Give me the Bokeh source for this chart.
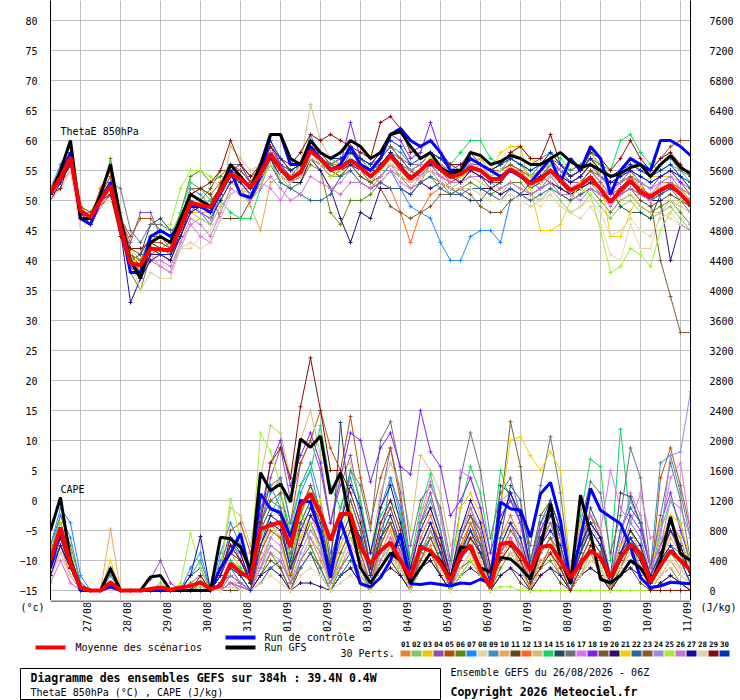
import math

from bokeh.core.properties import value
from bokeh.embed import file_html
from bokeh.layouts import column
from bokeh.models import ColumnDataSource, FixedTicker, LinearAxis, Range1d
from bokeh.plotting import figure
from bokeh.resources import INLINE

MONO = "DejaVu Sans Mono"

# ---------------------------------------------------------------- data ----
# GEFS run 26/08 06Z, one value every 6 h out to 384 h
step_h = 6
day_labels = ["27/08", "28/08", "29/08", "30/08", "31/08", "01/09", "02/09", "03/09",
              "04/09", "05/09", "06/09", "07/09", "08/09", "09/09", "10/09", "11/09"]
day_hours = [18 + 24 * k for k in range(len(day_labels))]

theta_ticks = list(range(-15, 81, 5))
cape_ticks = list(range(0, 7601, 400))

member_names = ["%02d" % k for k in range(1, 31)]
member_colors = ["#e8822e", "#88c46a", "#f0c400", "#8e50b0", "#b0500a", "#5a8a10",
                 "#1a88ff", "#e8d4a8", "#3a8ec0", "#e8a855", "#5e4a1e", "#f86a1e",
                 "#d0be78", "#10d860", "#244a5e", "#68727a", "#e070f0", "#7f20f0",
                 "#7a5c2e", "#300a70", "#f0d000", "#2a66a0", "#8c5a20", "#9a88e8",
                 "#a0f030", "#d070d0", "#1a0aa0", "#e0d0a8", "#880a0a", "#0030c0"]

# ThetaE 850 hPa (degC)
mean_theta = [51.2, 53.8, 57.2, 48.3, 47.2, 50.0, 52.5, 45.5, 39.5, 39.2, 42.0, 41.8, 41.7, 45.5, 49.7, 49.2,
              48.9, 51.7, 54.4, 53.6, 52.2, 54.4, 57.8, 55.2, 53.6, 54.7, 58.3, 56.9, 55.2, 55.5, 56.7, 55.5,
              54.0, 55.5, 57.5, 55.5, 53.6, 55.0, 56.7, 55.2, 53.9, 54.4, 55.5, 55.0, 53.6, 53.6, 55.2, 54.2,
              52.8, 53.6, 55.0, 53.3, 51.7, 52.5, 53.9, 51.9, 49.7, 51.7, 53.3, 51.4, 50.6, 51.7, 52.5, 51.1, 49.2]
ctrl_theta = [51, 54, 58, 47, 46, 50, 53, 46, 38, 38, 44, 45, 44, 46, 49, 49, 48, 52, 55, 51,
              50.5, 54, 61, 61, 56, 56, 59, 57, 55, 56, 59, 56, 55, 57, 61, 62, 60, 59, 60, 58,
              55, 55, 57, 56, 55, 54, 55, 54, 53, 55, 57, 53, 57, 55, 59, 57, 51, 55, 57, 56,
              55, 60, 60, 59, 57.5]
gfs_theta = [51, 55, 60, 47, 47, 51, 56, 47, 40, 37, 43, 44, 43, 47, 51, 50, 49, 52, 56, 54,
             52, 56, 61, 61, 57, 56, 60, 58, 57, 58, 60, 59, 57, 58, 61, 61.5, 59, 57, 58, 55.5,
             54.5, 55, 58, 57.5, 56, 56.5, 57.5, 57, 56, 56, 57, 58, 56.5, 55.5, 56, 55, 54, 54.5, 55.5, 56,
             54, 56, 57.5, 55.5, 54.5]

theta_01 = [52, 55, 58, 49, 47, 51, 54, 46, 41, 38, 43, 43, 42, 46, 51, 50, 48, 53, 55, 56, 53, 55, 59, 56, 55, 54, 59, 58, 56, 56, 58, 56, 55, 56, 58, 57, 55, 53, 56, 56, 55, 53, 55, 56, 54, 55, 56, 55, 54, 53, 56, 54, 52, 53, 55, 53, 51, 52, 54, 52, 50, 53, 53, 52, 50]
theta_02 = [51, 53, 56, 48, 48, 49, 51, 44, 39, 38, 41, 39, 38, 43, 46, 47, 46, 49, 51, 52, 50, 53, 56, 54, 52, 53, 57, 56, 54, 54, 56, 54, 53, 54, 56, 54, 53, 54, 55, 54, 52, 53, 54, 53, 52, 51, 53, 52, 51, 50, 52, 50, 48, 49, 51, 49, 47, 49, 50, 48, 47, 48, 49, 47, 45]
theta_03 = [52, 54, 57, 49, 48, 50, 53, 47, 42, 40, 42, 41, 40, 44, 48, 48, 47, 50, 53, 52, 51, 53, 57, 55, 53, 54, 58, 56, 55, 54, 57, 55, 53, 55, 57, 56, 55, 56, 58, 57, 56, 55, 56, 57, 55, 56, 58, 59, 57, 56, 57, 55, 54, 55, 57, 54, 52, 53, 55, 52, 51, 52, 53, 51, 49]
theta_04 = [51, 54, 56, 47, 46, 50, 52, 47, 43, 48, 48, 44, 42, 46, 50, 49, 50, 52, 54, 53, 51, 54, 58, 55, 54, 56, 59, 58, 56, 57, 59, 56, 55, 57, 59, 57, 55, 56, 58, 56, 55, 55, 56, 56, 55, 54, 56, 55, 53, 55, 56, 54, 53, 53, 55, 53, 51, 52, 54, 51, 50, 51, 52, 50, 48]
theta_05 = [51, 53, 57, 48, 47, 52, 55, 47, 44, 47, 47, 45, 44, 47, 52, 52, 51, 53, 56, 55, 53, 55, 59, 57, 55, 56, 60, 58, 56, 57, 58, 57, 55, 56, 58, 56, 54, 55, 57, 55, 53, 54, 55, 54, 53, 53, 55, 54, 52, 53, 55, 53, 51, 52, 54, 52, 50, 51, 53, 51, 50, 52, 53, 52, 51]
theta_06 = [52, 55, 58, 48, 47, 50, 57, 48, 38, 35, 41, 42, 43, 48, 54, 55, 53, 54, 56, 54, 52, 53, 57, 53, 52, 53, 56, 55, 48, 46, 50, 50, 51, 53, 55, 54, 52, 53, 54, 53, 51, 52, 53, 52, 51, 52, 53, 53, 51, 52, 53, 51, 50, 51, 52, 50, 48, 50, 51, 49, 48, 49, 50, 48, 46]
theta_07 = [52, 56, 59, 48, 47, 51, 53, 45, 40, 39, 43, 44, 43, 46, 50, 48, 46, 51, 53, 54, 52, 56, 60, 56, 54, 55, 61, 57, 55, 55, 58, 56, 55, 55, 55, 52, 49, 48, 47, 43, 40, 40, 44, 45, 45, 43, 50, 51, 53, 52, 54, 52, 51, 52, 53, 51, 50, 51, 52, 51, 50, 51, 52, 51, 50]
theta_08 = [50, 53, 56, 49, 48, 50, 52, 45, 40, 38, 41, 40, 38, 42, 42, 44, 45, 48, 52, 53, 51, 54, 58, 56, 55, 55, 58, 57, 55, 56, 58, 56, 55, 56, 57, 55, 53, 54, 56, 54, 53, 53, 54, 53, 52, 51, 52, 51, 50, 49, 51, 49, 48, 47, 49, 46, 41, 40, 46, 42, 42, 48, 47, 46, 45]
theta_09 = [52, 55, 57, 48, 47, 51, 53, 46, 41, 40, 44, 45, 44, 47, 52, 51, 49, 52, 55, 55, 53, 54, 57, 55, 54, 55, 58, 57, 56, 55, 57, 56, 55, 57, 59, 58, 56, 56, 58, 57, 56, 55, 56, 57, 55, 55, 57, 56, 54, 55, 56, 55, 53, 54, 56, 54, 53, 54, 55, 54, 53, 54, 55, 53, 52]
theta_10 = [51, 54, 57, 48, 47, 49, 52, 46, 41, 39, 42, 41, 41, 45, 49, 48, 48, 51, 53, 52, 49, 45, 53, 54, 53, 55, 57, 56, 54, 55, 57, 55, 54, 55, 57, 55, 54, 55, 57, 55, 54, 53, 55, 54, 53, 54, 55, 55, 53, 54, 55, 53, 52, 52, 54, 52, 51, 52, 53, 52, 51, 52, 53, 52, 50]
theta_11 = [52, 55, 57, 48, 47, 51, 53, 47, 42, 41, 44, 44, 43, 47, 51, 52, 51, 47, 47, 47, 50, 53, 56, 54, 53, 54, 57, 56, 55, 54, 56, 54, 53, 54, 56, 54, 53, 54, 56, 54, 53, 53, 55, 54, 52, 53, 55, 54, 52, 53, 55, 53, 51, 52, 53, 51, 50, 51, 52, 50, 49, 50, 51, 50, 49]
theta_12 = [51, 53, 56, 48, 47, 52, 55, 48, 41, 39, 42, 42, 41, 45, 50, 49, 48, 51, 54, 54, 52, 54, 57, 55, 54, 55, 57, 56, 55, 55, 56, 55, 54, 53, 52, 48, 43, 48, 51, 52, 53, 54, 55, 54, 53, 54, 55, 54, 53, 54, 55, 54, 52, 53, 54, 52, 51, 52, 54, 52, 51, 52, 53, 52, 50]
theta_13 = [50, 52, 55, 49, 48, 50, 52, 46, 41, 40, 43, 42, 41, 44, 48, 47, 46, 49, 59, 57, 55, 56, 57, 54, 53, 56, 66, 60, 57, 56, 58, 56, 55, 55, 57, 55, 54, 55, 57, 56, 55, 54, 56, 55, 54, 55, 56, 55, 54, 53, 54, 53, 52, 51, 53, 51, 50, 50, 51, 49, 48, 48, 50, 49, 48]
theta_14 = [52, 54, 57, 49, 48, 51, 56, 47, 39, 37, 43, 45, 44, 48, 53, 52, 50, 50, 48, 47, 47, 52, 57, 55, 54, 56, 60, 58, 57, 56, 59, 57, 55, 56, 58, 56, 55, 56, 58, 57, 56, 58, 60, 60, 57, 56, 57, 56, 55, 56, 58, 57, 55, 56, 58, 56, 55, 60, 61, 58, 56, 55, 56, 55, 53]
theta_15 = [51, 54, 57, 48, 46, 50, 53, 46, 40, 41, 46, 47, 45, 46, 50, 49, 48, 52, 55, 54, 52, 55, 58, 56, 55, 56, 58, 57, 56, 55, 57, 56, 55, 55, 57, 56, 55, 54, 55, 53, 52, 51, 50, 50, 52, 53, 55, 54, 53, 54, 56, 55, 53, 54, 56, 54, 52, 49, 48, 48, 47, 51, 53, 51, 49]
theta_16 = [52, 55, 58, 48, 47, 51, 53, 52, 45, 43, 46, 46, 45, 46, 51, 50, 49, 52, 56, 56, 54, 55, 58, 56, 55, 56, 59, 57, 56, 57, 58, 56, 55, 56, 58, 57, 56, 56, 58, 57, 56, 55, 57, 56, 55, 56, 58, 57, 56, 57, 58, 56, 55, 56, 57, 55, 54, 55, 57, 55, 54, 56, 57, 55, 54]
theta_17 = [52, 55, 56, 48, 47, 50, 51, 46, 40, 37, 40, 39, 38, 42, 46, 44, 43, 47, 51, 52, 52, 53, 52, 50, 53, 54, 57, 55, 52, 53, 55, 53, 52, 53, 55, 53, 52, 54, 56, 54, 53, 53, 55, 54, 53, 54, 55, 54, 53, 54, 55, 54, 52, 53, 54, 52, 51, 53, 54, 52, 51, 53, 54, 53, 52]
theta_18 = [51, 54, 57, 47, 46, 50, 53, 46, 40, 38, 41, 41, 40, 45, 50, 49, 48, 51, 55, 56, 53, 55, 59, 56, 54, 55, 59, 57, 55, 56, 63, 57, 56, 58, 61, 60, 57, 58, 63, 58, 55, 56, 58, 56, 55, 55, 57, 56, 54, 55, 57, 55, 54, 55, 56, 54, 53, 53, 55, 53, 52, 54, 55, 53, 51]
theta_19 = [51, 53, 56, 48, 47, 50, 52, 46, 41, 39, 42, 42, 41, 44, 48, 50, 52, 55, 55, 54, 52, 54, 57, 55, 53, 54, 57, 56, 54, 55, 57, 55, 53, 52, 49, 48, 47, 48, 49, 51, 51, 52, 51, 49, 48, 48, 50, 51, 53, 54, 53, 52, 51, 53, 55, 54, 52, 53, 54, 53, 50, 40, 34, 28, 28]
theta_20 = [51, 53, 56, 47, 46, 49, 51, 45, 39, 37, 41, 41, 40, 44, 49, 48, 47, 50, 53, 54, 52, 54, 57, 54, 53, 53, 57, 55, 52, 47, 43, 48, 47, 52, 52, 52, 51, 53, 52, 53, 52, 52, 52, 52, 52, 51, 52, 51, 51, 52, 53, 52, 51, 52, 53, 52, 50, 52, 53, 52, 50, 50, 40, 46, 45]
theta_21 = [52, 54, 57, 48, 47, 51, 52, 46, 40, 40, 43, 42, 41, 46, 50, 49, 48, 51, 54, 54, 52, 54, 57, 55, 54, 55, 58, 57, 55, 55, 57, 55, 54, 55, 57, 56, 55, 56, 58, 56, 54, 53, 56, 57, 55, 58, 59, 59, 52, 45, 45, 46, 50, 53, 59, 54, 44, 44, 48, 52, 54, 54, 54, 52, 50]
theta_22 = [51, 54, 57, 48, 47, 50, 53, 46, 40, 38, 42, 42, 42, 46, 50, 49, 48, 51, 54, 53, 51, 53, 56, 53, 52, 51, 50, 50, 51, 54, 55, 53, 52, 53, 52, 52, 51, 53, 54, 52, 51, 51, 52, 52, 51, 50, 52, 51, 50, 51, 52, 51, 50, 51, 52, 51, 50, 51, 52, 51, 50, 51, 52, 51, 50]
theta_23 = [52, 55, 57, 49, 48, 51, 54, 46, 41, 40, 43, 43, 42, 46, 51, 50, 49, 52, 55, 55, 53, 56, 59, 57, 55, 56, 59, 58, 57, 58, 59, 57, 56, 57, 59, 57, 55, 56, 58, 57, 55, 55, 57, 56, 55, 55, 56, 55, 54, 56, 57, 56, 54, 55, 57, 56, 54, 55, 57, 56, 55, 57, 59, 60, 60]
theta_24 = [51, 54, 57, 48, 47, 50, 52, 46, 40, 38, 42, 42, 41, 45, 49, 48, 47, 51, 54, 54, 52, 54, 58, 55, 54, 55, 58, 57, 55, 55, 57, 55, 54, 55, 58, 56, 55, 56, 58, 56, 55, 54, 56, 55, 54, 55, 57, 56, 54, 55, 56, 55, 53, 54, 56, 54, 52, 53, 55, 53, 52, 53, 54, 52, 51]
theta_25 = [52, 54, 57, 48, 47, 50, 52, 46, 41, 37, 43, 44, 46, 52, 55, 55, 54, 52, 54, 53, 51, 53, 56, 54, 53, 54, 57, 56, 54, 55, 57, 55, 54, 55, 57, 55, 54, 55, 57, 55, 54, 54, 55, 55, 54, 55, 57, 56, 54, 55, 56, 54, 52, 52, 51, 45, 38, 39, 42, 41, 39, 45, 48, 50, 52]
theta_26 = [51, 53, 55, 47, 46, 49, 51, 45, 39, 37, 40, 40, 39, 43, 47, 46, 44, 48, 52, 51, 50, 52, 54, 52, 50, 51, 54, 53, 52, 51, 53, 53, 52, 54, 56, 55, 53, 54, 55, 54, 53, 53, 54, 54, 53, 52, 53, 52, 51, 52, 53, 51, 51, 50, 52, 51, 49, 51, 52, 51, 50, 52, 53, 51, 50]
theta_27 = [50, 53, 57, 48, 47, 50, 52, 45, 33, 37, 40, 41, 41, 44, 48, 49, 48, 51, 54, 53, 51, 54, 57, 55, 53, 54, 57, 56, 55, 55, 56, 55, 54, 56, 58, 56, 54, 55, 56, 55, 54, 53, 55, 54, 53, 54, 55, 54, 53, 54, 55, 54, 53, 54, 56, 55, 53, 54, 55, 54, 53, 54, 55, 54, 52]
theta_28 = [50, 52, 55, 45, 47, 49, 50, 46, 40, 35, 38, 37, 37, 42, 43, 42, 43, 47, 51, 52, 51, 53, 56, 54, 53, 54, 57, 56, 55, 55, 57, 55, 54, 55, 56, 54, 53, 54, 55, 53, 52, 52, 52, 51, 50, 50, 51, 50, 49, 50, 51, 49, 48, 49, 50, 48, 44, 45, 47, 45, 44, 47, 48, 46, 45]
theta_29 = [51, 52, 57, 48, 47, 50, 51, 44, 42, 42, 43, 42, 42, 46, 51, 52, 53, 55, 60, 56, 54, 56, 59, 57, 56, 58, 61, 60, 61, 60, 59, 58, 57, 63, 64, 62, 58, 59, 60, 58, 56, 56, 57, 56, 55, 56, 58, 59, 57, 57, 61, 56, 54, 55, 58, 57, 55, 57, 60, 57, 55, 57, 58, 56, 54]
theta_30 = [51, 54, 58, 48, 46, 50, 52, 46, 40, 38, 42, 41, 41, 45, 49, 49, 48, 51, 54, 54, 52, 55, 60, 57, 55, 56, 60, 58, 57, 57, 58, 57, 56, 58, 60, 59, 56, 57, 58, 57, 55, 55, 57, 56, 55, 56, 57, 56, 55, 56, 58, 56, 54, 55, 57, 55, 54, 55, 56, 55, 54, 55, 56, 54, 53]

# CAPE (J/kg)
mean_cape = [400, 840, 360, 40, 0, 0, 110, 0, 0, 0, 20, 40, 10, 40, 60, 110, 20, 60, 360, 240,
             160, 820, 870, 910, 580, 1130, 1290, 1020, 670, 1020, 1020, 580, 360, 530, 640, 400, 175, 580, 530, 360,
             130, 470, 600, 270, 40, 620, 640, 490, 270, 580, 600, 400, 175, 360, 530, 440, 175, 440, 620, 490,
             110, 330, 530, 400, 270]
ctrl_cape = [300, 800, 400, 0, 0, 0, 50, 0, 0, 0, 0, 0, 0, 0, 0, 0, 0, 300, 500, 760,
             200, 1290, 1090, 1040, 710, 1200, 1180, 760, 170, 930, 530, 90, 50, 170, 400, 760, 90, 80, 100, 80,
             60, 100, 90, 150, 100, 1180, 1090, 1070, 710, 1290, 1440, 930, 90, 700, 1360, 1070, 980, 890, 580, 170,
             40, 60, 110, 100, 90]
gfs_cape = [800, 1240, 400, 50, 0, 0, 290, 0, 0, 0, 180, 200, 0, 0, 0, 0, 0, 710, 690, 580,
            270, 1570, 1330, 1420, 1180, 2020, 1910, 2060, 1290, 1570, 900, 300, 100, 300, 500, 400, 100, 300, 500, 400,
            150, 580, 560, 300, 250, 440, 420, 300, 150, 580, 1160, 400, 100, 1270, 760, 150, 100, 200, 400, 300,
            100, 400, 980, 490, 400]

cape_01 = [300, 700, 300, 0, 0, 0, 50, 0, 0, 0, 0, 0, 0, 0, 0, 0, 0, 0, 100, 50, 0, 400, 600, 500, 100, 900, 700, 400, 100, 300, 500, 200, 50, 500, 800, 300, 50, 400, 600, 200, 0, 300, 500, 200, 0, 500, 700, 300, 50, 400, 500, 200, 0, 300, 500, 200, 50, 300, 600, 300, 0, 200, 400, 200, 100]
cape_02 = [500, 900, 500, 50, 0, 0, 100, 0, 0, 0, 0, 100, 0, 0, 0, 50, 0, 100, 300, 200, 0, 300, 700, 900, 300, 1100, 600, 300, 0, 200, 400, 100, 0, 300, 600, 200, 0, 500, 800, 400, 100, 600, 700, 300, 0, 400, 600, 300, 0, 500, 700, 300, 0, 200, 500, 300, 0, 400, 700, 300, 100, 300, 500, 300, 100]
cape_03 = [400, 800, 300, 0, 0, 0, 200, 0, 0, 0, 0, 0, 0, 0, 100, 0, 0, 200, 500, 300, 100, 600, 900, 700, 200, 1000, 1300, 900, 300, 800, 1100, 600, 200, 700, 900, 400, 100, 1000, 1300, 800, 200, 600, 800, 400, 50, 700, 900, 600, 200, 800, 1000, 600, 100, 500, 900, 700, 100, 600, 800, 500, 100, 600, 1000, 900, 300]
cape_04 = [200, 600, 300, 0, 0, 0, 100, 0, 0, 0, 150, 400, 100, 0, 0, 0, 0, 100, 300, 100, 0, 800, 1500, 1900, 1200, 1700, 2000, 1600, 900, 1400, 1800, 1100, 300, 1200, 1900, 1300, 400, 900, 1300, 800, 200, 700, 1000, 600, 100, 600, 900, 500, 100, 700, 900, 500, 100, 500, 800, 600, 100, 400, 700, 400, 100, 500, 800, 500, 200]
cape_05 = [300, 700, 400, 0, 0, 0, 50, 0, 0, 0, 0, 0, 0, 0, 0, 0, 0, 300, 800, 900, 500, 1000, 1400, 1500, 900, 1700, 2000, 2400, 1900, 1600, 2320, 1500, 900, 1500, 1900, 1200, 300, 900, 1100, 700, 100, 500, 900, 600, 100, 500, 700, 400, 0, 300, 600, 300, 0, 400, 700, 500, 0, 300, 600, 400, 100, 1500, 1900, 1400, 800]
cape_06 = [600, 1000, 600, 100, 0, 0, 100, 0, 0, 0, 0, 0, 0, 0, 0, 0, 0, 0, 100, 0, 0, 200, 500, 300, 0, 400, 600, 300, 0, 300, 500, 200, 0, 200, 400, 200, 0, 300, 500, 200, 0, 200, 400, 200, 0, 300, 500, 300, 0, 300, 400, 200, 0, 200, 400, 300, 0, 300, 500, 200, 0, 200, 300, 100, 0]
cape_07 = [600, 1100, 900, 200, 0, 0, 100, 0, 0, 0, 0, 0, 0, 0, 300, 500, 0, 500, 900, 600, 200, 1100, 1400, 1100, 400, 1300, 1600, 1000, 300, 900, 1200, 800, 200, 600, 1500, 1100, 300, 500, 700, 400, 0, 400, 600, 300, 100, 400, 600, 500, 100, 500, 700, 400, 0, 600, 900, 700, 100, 500, 700, 400, 100, 500, 800, 600, 200]
cape_08 = [300, 500, 100, 0, 0, 0, 0, 0, 0, 0, 0, 0, 0, 0, 0, 0, 0, 0, 0, 0, 0, 100, 300, 200, 0, 300, 500, 300, 0, 200, 400, 200, 0, 300, 500, 200, 0, 300, 400, 200, 0, 300, 500, 300, 0, 400, 500, 300, 0, 300, 500, 400, 0, 300, 400, 300, 0, 200, 300, 200, 0, 200, 300, 200, 100]
cape_09 = [500, 1000, 700, 100, 0, 0, 200, 0, 0, 0, 0, 0, 0, 0, 200, 400, 0, 400, 700, 400, 100, 900, 1300, 1500, 900, 1400, 1700, 1200, 500, 1100, 1500, 1000, 300, 1100, 1500, 1000, 200, 900, 1200, 800, 200, 800, 1100, 700, 100, 900, 1300, 1000, 300, 900, 1100, 700, 200, 700, 1000, 800, 200, 800, 1200, 900, 300, 1700, 1800, 1300, 700]
cape_10 = [400, 800, 400, 0, 0, 0, 820, 0, 0, 0, 0, 0, 0, 0, 0, 0, 0, 0, 200, 100, 0, 500, 900, 700, 200, 600, 900, 500, 100, 400, 700, 400, 100, 500, 800, 400, 0, 400, 700, 400, 0, 500, 800, 400, 0, 400, 700, 500, 100, 500, 700, 400, 100, 600, 900, 700, 100, 500, 800, 500, 100, 400, 700, 500, 200]
cape_11 = [300, 700, 300, 0, 0, 0, 0, 0, 0, 0, 0, 0, 0, 0, 0, 0, 0, 0, 0, 0, 0, 200, 400, 300, 0, 300, 500, 200, 0, 200, 300, 100, 0, 200, 400, 200, 0, 300, 400, 200, 0, 300, 400, 200, 0, 200, 300, 100, 0, 200, 300, 100, 0, 200, 300, 200, 0, 200, 300, 100, 0, 100, 200, 100, 0]
cape_12 = [300, 600, 200, 0, 0, 0, 100, 0, 0, 0, 0, 0, 0, 0, 0, 0, 0, 200, 500, 400, 100, 700, 1000, 900, 300, 800, 1100, 700, 200, 600, 900, 500, 100, 600, 900, 500, 100, 700, 1000, 600, 100, 600, 900, 500, 100, 700, 1000, 700, 200, 600, 900, 600, 100, 500, 800, 600, 100, 500, 800, 600, 100, 600, 900, 700, 200]
cape_13 = [300, 700, 200, 0, 0, 0, 100, 0, 0, 0, 0, 0, 0, 0, 0, 0, 0, 300, 1100, 1000, 600, 1500, 2200, 2100, 1500, 2000, 2400, 1800, 900, 1600, 1700, 1200, 500, 1300, 1700, 1400, 800, 1800, 1600, 1300, 600, 800, 1100, 700, 200, 900, 1200, 900, 300, 800, 1000, 700, 200, 700, 900, 600, 100, 600, 800, 500, 100, 600, 800, 700, 300]
cape_14 = [400, 800, 400, 0, 0, 0, 100, 0, 0, 0, 0, 0, 0, 0, 0, 100, 0, 100, 400, 300, 100, 700, 1000, 1300, 800, 1400, 1600, 2200, 1400, 1100, 1600, 1200, 500, 1000, 1200, 1000, 400, 1100, 1550, 1000, 300, 1100, 1650, 1300, 500, 1600, 1200, 1000, 300, 700, 900, 800, 300, 1000, 1750, 1650, 400, 2150, 900, 700, 200, 800, 1200, 900, 300]
cape_15 = [500, 900, 500, 0, 0, 0, 100, 0, 0, 0, 0, 0, 0, 0, 200, 300, 0, 300, 600, 400, 100, 800, 1100, 1000, 400, 900, 1200, 900, 300, 2240, 1000, 700, 200, 700, 900, 600, 100, 500, 800, 500, 100, 700, 1000, 800, 200, 1400, 1300, 900, 200, 600, 1200, 800, 100, 500, 1100, 800, 200, 1300, 1250, 900, 300, 600, 900, 600, 200]
cape_16 = [400, 800, 400, 0, 0, 0, 100, 0, 0, 0, 0, 0, 0, 0, 100, 200, 0, 300, 600, 500, 100, 900, 1200, 1100, 500, 1000, 1400, 1000, 400, 900, 1600, 1400, 800, 2000, 2250, 1600, 600, 1200, 1400, 1100, 400, 1500, 2100, 1600, 700, 1300, 1500, 1000, 600, 1400, 2050, 1300, 200, 900, 1450, 1300, 500, 1000, 1900, 1500, 300, 1000, 1700, 1200, 400]
cape_17 = [200, 500, 200, 0, 0, 0, 50, 0, 0, 0, 0, 0, 0, 0, 0, 0, 0, 0, 100, 100, 0, 400, 700, 600, 200, 700, 1000, 700, 200, 500, 800, 600, 200, 900, 1100, 700, 200, 1000, 1450, 1000, 300, 1600, 1500, 1100, 300, 1200, 1300, 900, 200, 800, 1100, 900, 300, 800, 1000, 800, 1600, 1100, 900, 1300, 700, 800, 1500, 1700, 800]
cape_18 = [300, 700, 300, 0, 0, 0, 100, 0, 0, 0, 0, 0, 0, 0, 0, 0, 0, 200, 500, 400, 200, 1000, 1700, 2000, 1400, 1800, 2100, 1700, 900, 1500, 2100, 2000, 1450, 1900, 2100, 1650, 1550, 2400, 1850, 1650, 1000, 1200, 1500, 1100, 500, 1000, 1200, 900, 300, 800, 1100, 700, 200, 600, 900, 700, 200, 600, 1000, 800, 300, 900, 1300, 800, 400]
cape_19 = [300, 600, 300, 0, 0, 0, 50, 0, 0, 0, 0, 0, 0, 0, 0, 0, 0, 200, 600, 700, 300, 900, 1200, 1300, 700, 1100, 1400, 1100, 400, 900, 1200, 800, 200, 800, 1100, 700, 100, 600, 900, 500, 100, 700, 1000, 700, 100, 1100, 2250, 1650, 400, 1000, 1200, 800, 200, 700, 1000, 700, 100, 500, 800, 600, 100, 400, 800, 500, 200]
cape_20 = [400, 800, 400, 0, 0, 0, 100, 0, 0, 0, 0, 0, 0, 0, 0, 0, 0, 100, 200, 100, 0, 200, 300, 200, 0, 100, 100, 50, 0, 200, 300, 100, 0, 200, 300, 200, 0, 300, 400, 200, 0, 200, 300, 200, 0, 200, 300, 200, 0, 200, 300, 200, 0, 200, 300, 200, 0, 200, 300, 200, 0, 100, 200, 100, 0]
cape_21 = [500, 900, 500, 0, 0, 0, 400, 0, 0, 0, 0, 0, 0, 0, 0, 0, 0, 0, 300, 200, 0, 500, 800, 700, 100, 700, 1000, 1200, 200, 600, 900, 500, 100, 700, 1000, 600, 100, 500, 800, 400, 0, 1100, 1300, 1000, 300, 1100, 2000, 2050, 1800, 1600, 1850, 1600, 300, 900, 1000, 800, 200, 600, 800, 600, 200, 900, 1000, 900, 400]
cape_22 = [300, 600, 300, 0, 0, 0, 0, 0, 0, 0, 0, 0, 0, 0, 0, 0, 0, 0, 100, 50, 0, 100, 300, 400, 100, 300, 500, 300, 0, 200, 400, 300, 0, 400, 600, 300, 0, 500, 700, 400, 0, 500, 800, 600, 100, 700, 1400, 1200, 400, 900, 1200, 800, 200, 600, 800, 600, 100, 800, 1100, 900, 300, 400, 600, 500, 200]
cape_23 = [400, 800, 400, 0, 0, 0, 50, 0, 0, 0, 0, 0, 0, 0, 0, 100, 0, 100, 300, 200, 0, 500, 800, 700, 200, 600, 900, 600, 100, 500, 800, 500, 100, 600, 900, 500, 100, 400, 700, 400, 100, 500, 700, 500, 100, 500, 800, 600, 100, 500, 700, 500, 100, 400, 700, 500, 100, 400, 700, 500, 100, 400, 600, 400, 100]
cape_24 = [300, 700, 300, 0, 0, 0, 100, 0, 0, 0, 0, 0, 0, 0, 0, 0, 0, 0, 200, 100, 0, 300, 600, 500, 100, 500, 800, 600, 100, 400, 700, 400, 100, 500, 700, 400, 100, 500, 800, 500, 100, 400, 700, 500, 100, 600, 900, 600, 200, 600, 800, 500, 100, 500, 800, 600, 100, 500, 900, 700, 200, 700, 1800, 1850, 2650]
cape_25 = [400, 800, 400, 0, 0, 0, 100, 0, 0, 0, 0, 0, 0, 100, 760, 300, 0, 300, 1220, 700, 300, 2100, 1850, 1400, 300, 1000, 900, 500, 0, 400, 700, 400, 0, 400, 600, 300, 0, 300, 500, 300, 0, 200, 400, 200, 0, 50, 50, 0, 0, 0, 0, 0, 0, 0, 0, 0, 0, 0, 0, 0, 0, 0, 0, 0, 0]
cape_26 = [100, 400, 100, 0, 0, 0, 0, 0, 0, 0, 0, 0, 0, 0, 0, 0, 0, 0, 100, 50, 0, 300, 500, 400, 100, 400, 700, 500, 100, 300, 600, 400, 100, 400, 700, 500, 100, 600, 900, 600, 200, 700, 1100, 800, 200, 500, 700, 500, 100, 600, 900, 700, 200, 600, 1000, 800, 200, 700, 1300, 1000, 300, 600, 1200, 1100, 700]
cape_27 = [200, 600, 300, 0, 0, 0, 300, 0, 0, 0, 0, 0, 0, 0, 200, 720, 0, 200, 700, 500, 100, 600, 900, 800, 300, 600, 1000, 800, 300, 900, 1400, 1100, 500, 1100, 1400, 900, 300, 800, 1100, 700, 200, 800, 1200, 900, 300, 900, 1300, 1000, 300, 700, 1000, 800, 200, 600, 900, 700, 200, 500, 800, 600, 200, 500, 800, 600, 200]
cape_28 = [150, 500, 200, 0, 0, 0, 0, 0, 0, 0, 0, 0, 0, 0, 0, 0, 0, 0, 50, 0, 0, 100, 200, 100, 0, 200, 300, 200, 0, 100, 200, 100, 0, 200, 400, 300, 0, 300, 500, 300, 0, 300, 500, 400, 100, 400, 600, 400, 100, 300, 500, 300, 0, 200, 400, 300, 100, 300, 500, 400, 100, 200, 400, 300, 100]
cape_29 = [400, 700, 300, 0, 0, 0, 100, 0, 0, 0, 0, 0, 0, 0, 0, 200, 0, 300, 600, 400, 100, 900, 1700, 1900, 1500, 2450, 3100, 2400, 1600, 1600, 1300, 900, 300, 900, 1200, 800, 200, 600, 900, 600, 100, 400, 700, 500, 100, 400, 600, 400, 100, 300, 500, 300, 0, 300, 600, 400, 100, 400, 600, 400, 0, 0, 0, 0, 0]
cape_30 = [400, 800, 400, 0, 0, 0, 100, 0, 0, 0, 0, 0, 0, 0, 0, 0, 0, 100, 300, 200, 0, 600, 1000, 900, 300, 800, 1100, 800, 200, 700, 1000, 700, 200, 700, 1000, 600, 100, 600, 900, 500, 100, 500, 800, 500, 100, 600, 900, 700, 200, 600, 800, 600, 100, 500, 800, 600, 100, 500, 700, 500, 100, 400, 600, 400, 100]

theta_members = [theta_01, theta_02, theta_03, theta_04, theta_05, theta_06, theta_07, theta_08, theta_09, theta_10,
                 theta_11, theta_12, theta_13, theta_14, theta_15, theta_16, theta_17, theta_18, theta_19, theta_20,
                 theta_21, theta_22, theta_23, theta_24, theta_25, theta_26, theta_27, theta_28, theta_29, theta_30]
cape_members = [cape_01, cape_02, cape_03, cape_04, cape_05, cape_06, cape_07, cape_08, cape_09, cape_10,
                cape_11, cape_12, cape_13, cape_14, cape_15, cape_16, cape_17, cape_18, cape_19, cape_20,
                cape_21, cape_22, cape_23, cape_24, cape_25, cape_26, cape_27, cape_28, cape_29, cape_30]


def hours_for(vals):
    return [step_h * i for i in range(len(vals))]


def style_axis(axis, standoff):
    axis.axis_line_color = "black"
    axis.axis_line_width = 1
    axis.major_tick_line_color = None
    axis.minor_tick_line_color = None
    axis.major_tick_in = 0
    axis.major_tick_out = 0
    axis.major_label_standoff = standoff
    axis.major_label_text_font = MONO
    axis.major_label_text_font_size = "10px"
    axis.major_label_text_color = "black"


# ---------------------------------------------------------- chart area ----
# frame: 640 px for 384 h, 6 px per degC, -15 degC on the 0 J/kg line
FRAME_L, FRAME_W, FRAME_H = 50, 640, 600
theta_lo = -15 - 10 / 6

p = figure(width=740, height=FRAME_H,
           x_range=Range1d(0, 384), y_range=Range1d(theta_lo, 500 / 6),
           output_backend="svg", toolbar_location=None,
           x_axis_location=None, frame_align=False,
           min_border_left=FRAME_L, min_border_right=740 - FRAME_L - FRAME_W,
           min_border_top=0, min_border_bottom=0,
           background_fill_color="white", border_fill_color="white", outline_line_color=None)

p.extra_y_ranges = {"cape": Range1d((theta_lo + 15) * 80, (500 / 6 + 15) * 80)}

p.yaxis.ticker = FixedTicker(ticks=theta_ticks)
style_axis(p.yaxis[0], 13)

ax_cape = LinearAxis(y_range_name="cape", ticker=FixedTicker(ticks=cape_ticks))
style_axis(ax_cape, 19)
p.add_layout(ax_cape, "right")

p.xgrid.ticker = FixedTicker(ticks=day_hours)
p.grid.grid_line_color = "#c0c0c0"
p.grid.grid_line_width = 1

# perturbations
for vals_list, rng in ((theta_members, "default"), (cape_members, "cape")):
    src = ColumnDataSource(dict(xs=[hours_for(v) for v in vals_list], ys=vals_list,
                                color=member_colors))
    p.multi_line("xs", "ys", line_color="color", line_width=1, source=src, y_range_name=rng)
    pts = dict(x=[], y=[], c=[])
    for vals, col in zip(vals_list, member_colors):
        pts["x"] += hours_for(vals)
        pts["y"] += vals
        pts["c"] += [col] * len(vals)
    p.scatter("x", "y", marker="cross", size=4, line_color="c", line_width=1,
              source=ColumnDataSource(pts), y_range_name=rng)

# control, GFS and mean
for vals, rng in ((ctrl_theta, "default"), (ctrl_cape, "cape")):
    p.line(hours_for(vals), vals, line_color="#0000ff", line_width=3, y_range_name=rng)
for vals, rng in ((gfs_theta, "default"), (gfs_cape, "cape")):
    p.line(hours_for(vals), vals, line_color="black", line_width=3, y_range_name=rng)
for vals, rng in ((mean_theta, "default"), (mean_cape, "cape")):
    p.line(hours_for(vals), vals, line_color="#ff0000", line_width=4, y_range_name=rng)

p.text(x=[6, 6], y=[61.5, 1.8], text=["ThetaE 850hPa", "CAPE"],
       text_font=value(MONO), text_font_size=value("10px"), text_color="black",
       text_baseline="middle")

# ------------------------------------------------- dates, legend, title ----
# footer in pixels: x from the left edge, y upward from the page bottom
f = figure(width=740, height=100, x_range=Range1d(0, 740), y_range=Range1d(0, 100),
           output_backend="svg", toolbar_location=None, min_border=0, frame_align=False,
           x_axis_location=None, y_axis_location=None,
           background_fill_color="white", border_fill_color="white", outline_line_color=None)
f.grid.visible = False

px_per_h = FRAME_W / 384
f.segment(x0=[FRAME_L], y0=[99.5], x1=[FRAME_L + FRAME_W], y1=[99.5], line_color="black", line_width=1)
f.text(x=[FRAME_L + h * px_per_h + 7 for h in day_hours], y=[98.5] * len(day_hours), text=day_labels,
       angle=math.pi / 2, text_font=value(MONO), text_font_size=value("10px"), text_color="black",
       text_align="right", text_baseline="middle")

f.segment(x0=[35], y0=[53], x1=[65], y1=[53], line_color="#ff0000", line_width=4)
f.segment(x0=[225], y0=[63], x1=[255], y1=[63], line_color="#0000ff", line_width=4)
f.segment(x0=[225], y0=[53], x1=[255], y1=[53], line_color="black", line_width=4)

f.text(x=[20, 700, 75, 264, 264, 340, 30, 450],
       y=[93, 93, 53, 63, 53, 47, 8, 28],
       text=["(°c)", "(J/kg)", "Moyenne des scénarios", "Run de contrôle", "Run GFS", "30 Perts.",
             "ThetaE 850hPa (°C) , CAPE (J/kg)", "Ensemble GEFS du 26/08/2026 - 06Z"],
       text_font=value(MONO), text_font_size=value("10px"), text_color="black",
       text_baseline="middle")
f.text(x=[30, 450], y=[23, 9],
       text=["Diagramme des ensembles GEFS sur 384h : 39.4N 0.4W", "Copyright 2026 Meteociel.fr"],
       text_font=value(MONO), text_font_size=value("11.5px"), text_font_style="bold",
       text_color="black", text_baseline="middle")

box_x = [405 + 11 * k for k in range(len(member_names))]
f.rect(x=box_x, y=[47] * len(box_x), width=10, height=6, fill_color=member_colors, line_color=None)
f.text(x=box_x, y=[57] * len(box_x), text=member_names,
       text_font=value(MONO), text_font_size=value("7.5px"), text_font_style="bold",
       text_color="black", text_align="center", text_baseline="middle")

f.quad(left=[20], right=[440], top=[32], bottom=[1], fill_color=None, line_color="black", line_width=1)

layout = column(p, f)
open("out.html", "w").write(file_html(layout, INLINE))
